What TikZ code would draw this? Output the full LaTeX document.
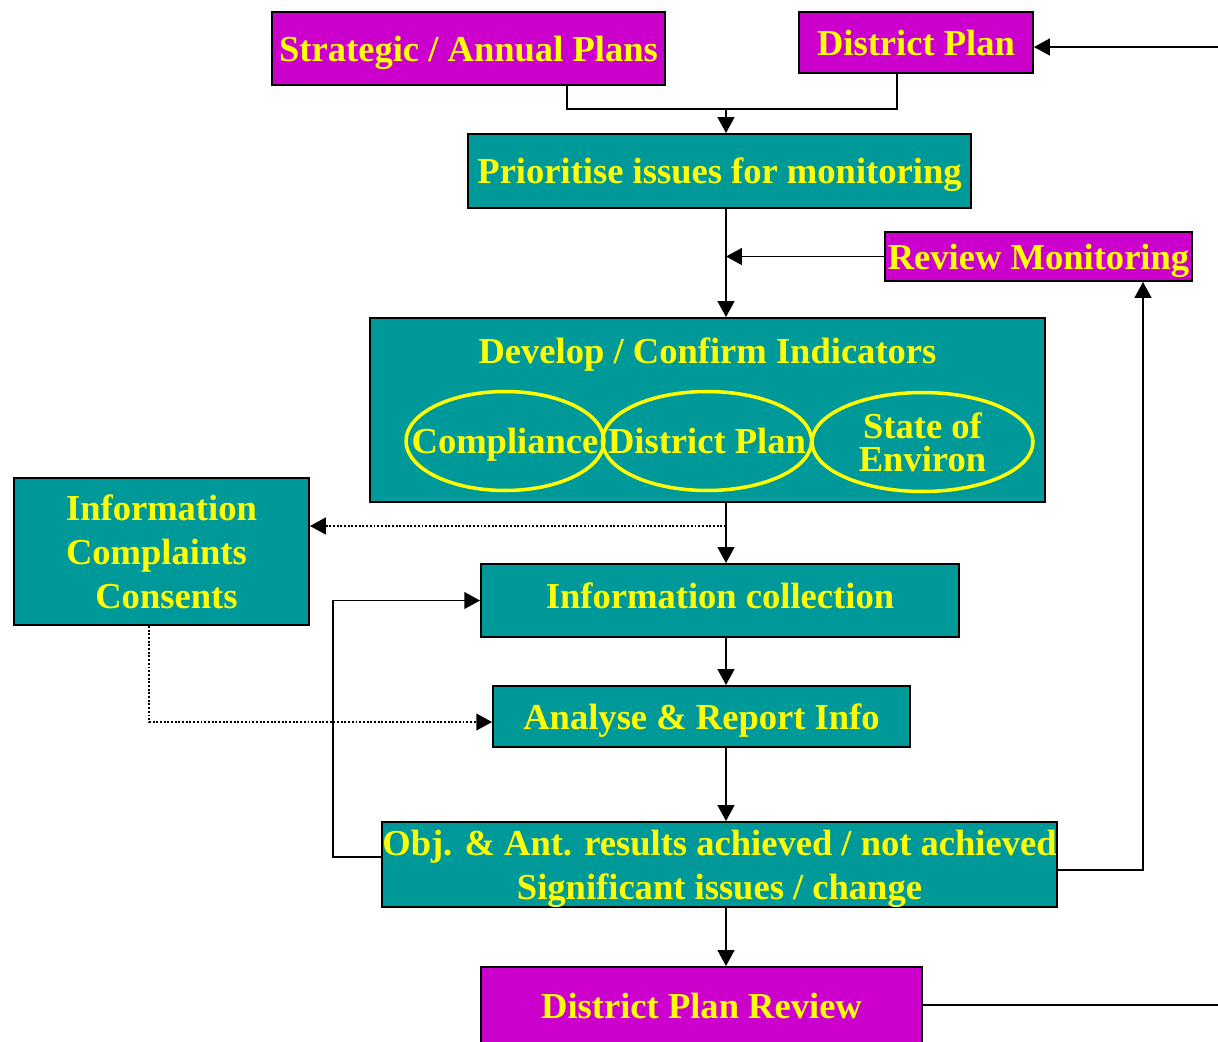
\documentclass[tikz,border=0pt]{standalone}
\usepackage{fontspec}
\setmainfont{Liberation Serif}
\usetikzlibrary{arrows.meta,shapes.geometric}
\definecolor{plumbox}{HTML}{CC00CC}
\definecolor{tealbox}{HTML}{009999}
\definecolor{yellowtxt}{HTML}{FFFF00}

\begin{document}
\begin{tikzpicture}[x=0.02cm,y=-0.02cm,line width=1.1pt,>={Triangle[length=9pt,width=9.5pt]},
  font=\bfseries\fontsize{20.8}{25}\selectfont,
  plan/.style={draw,fill=plumbox,text=yellowtxt,inner sep=0pt,align=center,text depth=0pt},
  task/.style={draw,fill=tealbox,text=yellowtxt,inner sep=0pt,align=center,text depth=0pt},
  aspect/.style={ellipse,draw=yellowtxt,line width=2pt,text=yellowtxt,inner ysep=0pt,inner xsep=-0.5cm,align=center,text depth=0pt}]
\useasboundingbox (0,0) rectangle (1218,1042);

\node[plan, minimum width=7.86cm, minimum height=1.46cm] (strat) at (468.5,48.5) {Strategic / Annual Plans};
\node[plan, minimum width=4.68cm, minimum height=1.22cm] (dp) at (916,42.5) {District Plan};
\node[task, minimum width=10.06cm, minimum height=1.48cm] (prio) at (719.5,171) {Prioritise issues for monitoring};
\node[plan, minimum width=6.14cm, minimum height=0.98cm] (review) at (1038.5,256.5) {Review Monitoring};
\node[task, minimum width=13.5cm, minimum height=3.68cm] (develop) at (707.5,410) {};
\node[text=yellowtxt] (title) at (707.5,355) {Develop / Confirm Indicators};
\node[aspect, minimum width=3.96cm, minimum height=1.98cm] (comp) at (505,441) {Compliance};
\node[aspect, minimum width=4.16cm, minimum height=1.98cm] (dpe) at (707,441) {District Plan};
\node[aspect, minimum width=4.42cm, minimum height=1.98cm, font=\bfseries\fontsize{20.8}{19}\selectfont] (soe) at (922.5,442) {State of\\Environ};
\node[task, minimum width=5.9cm, minimum height=2.94cm] (icc) at (161.5,551.5) {Information\\Complaints\hphantom{l}\\\hspace*{0.27em}Consents};
\node[task, minimum width=9.56cm, minimum height=1.46cm, text depth=6pt] (collect) at (720,600.5) {Information collection};
\node[task, minimum width=8.34cm, minimum height=1.22cm] (analyse) at (701.5,716.5) {Analyse \& Report Info};
\node[task, minimum width=13.5cm, minimum height=1.7cm] (obj) at (719.5,864.5) {Obj. \& Ant. results achieved / not achieved\\Significant issues / change};
\node[plan, minimum width=8.82cm, minimum height=1.56cm] (dpr) at (701.5,1006) {District Plan Review};

% joints
\coordinate (sj) at (567,109);
\coordinate (dj) at (897,109);
\coordinate (mj) at (726,109);
\coordinate (east1) at (1218,47);
\coordinate (dotj) at (726,526);
\coordinate (lb) at (333,857);
\coordinate (ib) at (149,722);
\coordinate (rb) at (1143,870);
\coordinate (east2) at (1218,1005);

\draw (strat.south -| sj) -- (sj) -- (dj) -- (dp.south -| dj);
\draw[->] (mj) -- (prio.north -| mj);
\draw[->] (east1) -- (dp.east |- east1);
\draw[->] (prio.south -| mj) -- (develop.north -| mj);
\draw[->] (review.west) -- (review.west -| mj);
\draw[->] (develop.south -| mj) -- (collect.north -| mj);
\draw[->,densely dotted] (dotj) -- (icc.east |- dotj);
\draw[->] (collect.south -| mj) -- (analyse.north -| mj);
\draw[->] (analyse.south -| mj) -- (obj.north -| mj);
\draw[->] (obj.south -| mj) -- (dpr.north -| mj);
\draw[->] (obj.west |- lb) -- (lb) |- (collect.west);
\draw[->,densely dotted] (icc.south -| ib) -- (ib) -- (analyse.west |- ib);
\draw[->] (obj.east |- rb) -- (rb) -- (review.south -| rb);
\draw (dpr.east |- east2) -- (east2);
\end{tikzpicture}
\end{document}
